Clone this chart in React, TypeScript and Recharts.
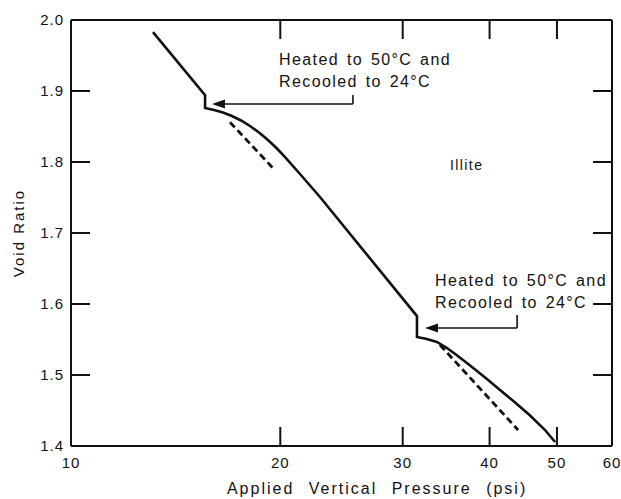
import React from 'react'
import { ComposedChart, Line, XAxis, YAxis, ReferenceLine } from 'recharts'

// page reset, so nothing scrolls
document.body.style.margin = '0'
document.body.style.overflow = 'hidden'

// axis ticks
const pressureTicks = [10, 20, 30, 40, 50, 60]
const voidTicks = [1.4, 1.5, 1.6, 1.7, 1.8, 1.9, 2.0]
const innerPressureTicks = [20, 30, 40, 50]
const innerVoidTicks = [1.5, 1.6, 1.7, 1.8, 1.9]

// solid curve: virgin line, heat/recool step, recompression, second step, recompression
const curvePressure = [
  13.12, 15.59, 15.59, 16.06, 16.54, 17.04, 17.56, 18.09, 18.64, 19.2, 19.78, 20.38, 21.35, 22.81,
  31.45, 31.45, 32.49, 33.6, 34.74, 35.93, 37.5, 39.41, 41.41, 43.53, 45.74, 48.07, 49.69,
]
const curveVoid = [
  1.983, 1.894, 1.876, 1.8732, 1.8697, 1.8648, 1.8585, 1.8507, 1.8415, 1.831, 1.819, 1.8056, 1.7831, 1.7507,
  1.583, 1.5535, 1.5507, 1.5465, 1.538, 1.5275, 1.5134, 1.4965, 1.4789, 1.4613, 1.443, 1.4225, 1.4056,
]

// dashed extensions of the virgin line
const dash1Pressure = [16.93, 19.52]
const dash1Void = [1.856, 1.7915]
const dash2Pressure = [33.94, 43.97]
const dash2Void = [1.5423, 1.4225]

const zip = (xs: number[], ys: number[]) => xs.map((p, i) => ({ p, e: ys[i] }))

const curve = zip(curvePressure, curveVoid)
const dash1 = zip(dash1Pressure, dash1Void)
const dash2 = zip(dash2Pressure, dash2Void)

const FONT = '"Liberation Sans", Arial, Helvetica, sans-serif'
const INK = '#111'
const TICK_LEN = 19

const [P_MIN, P_MAX] = [10, 60]
const [E_MIN, E_MAX] = [1.4, 2.0]

const tickStyle = { fontSize: 15, fill: INK, fontFamily: FONT, letterSpacing: 1 }

// whole-axis reference lines, drawn as short inward tick marks at both ends
const vTicks = (props: any) => {
  const x = Number(props.x1)
  const top = Math.min(Number(props.y1), Number(props.y2))
  const bottom = Math.max(Number(props.y1), Number(props.y2))
  return (
    <g>
      <line x1={x} y1={top} x2={x} y2={top + TICK_LEN} stroke={INK} strokeWidth={2} />
      <line x1={x} y1={bottom} x2={x} y2={bottom - TICK_LEN} stroke={INK} strokeWidth={2} />
    </g>
  )
}

const hTicks = (props: any) => {
  const y = Number(props.y1)
  const left = Math.min(Number(props.x1), Number(props.x2))
  const right = Math.max(Number(props.x1), Number(props.x2))
  return (
    <g>
      <line x1={left} y1={y} x2={left + TICK_LEN} y2={y} stroke={INK} strokeWidth={2} />
      <line x1={right} y1={y} x2={right - TICK_LEN} y2={y} stroke={INK} strokeWidth={2} />
    </g>
  )
}

const plainLine = (w: number) => (props: any) => (
  <line x1={props.x1} y1={props.y1} x2={props.x2} y2={props.y2} stroke={INK} strokeWidth={w} />
)

// horizontal arrow from bracket corner to the step
const arrow = (props: any) => {
  const { x1, y1, x2, y2 } = props
  const dir = x2 < x1 ? 1 : -1
  return (
    <g>
      <line x1={x1} y1={y1} x2={x2 + dir * 6} y2={y2} stroke={INK} strokeWidth={1.6} />
      <polygon points={`${x2},${y2} ${x2 + dir * 13},${y2 - 4.5} ${x2 + dir * 13},${y2 + 4.5}`} fill={INK} />
    </g>
  )
}

const textAt = (lines: string[], size: number, extra: any = {}) => (props: any) => {
  const { x1, y1 } = props
  return (
    <text x={x1} y={y1} fontFamily={FONT} fontSize={size} letterSpacing={1.4} wordSpacing={2} fill={INK} {...extra}>
      {lines.map((l, i) => (
        <tspan key={i} x={x1} dy={i === 0 ? 0 : 22}>
          {l}
        </tspan>
      ))}
    </text>
  )
}

const note = ['Heated to 50°C and', 'Recooled to 24°C']

const at = (x: number, y: number) => [{ x, y }, { x, y }]

export default function App() {
  return (
    <div style={{ position: 'relative', width: 621, height: 499, background: '#fff', overflow: 'hidden' }}>
      <ComposedChart width={621} height={499} margin={{ top: 20, right: 9, left: 0, bottom: 0 }}>
        <XAxis
          dataKey="p"
          type="number"
          scale="log"
          domain={[P_MIN, P_MAX]}
          ticks={pressureTicks}
          allowDataOverflow
          height={53}
          tickSize={0}
          tickMargin={11}
          stroke={INK}
          strokeWidth={2}
          tick={tickStyle}
        />
        <YAxis
          dataKey="e"
          type="number"
          domain={[E_MIN, E_MAX]}
          ticks={voidTicks}
          allowDataOverflow
          width={71}
          tickSize={0}
          tickMargin={7}
          stroke={INK}
          strokeWidth={2}
          tick={tickStyle}
          tickFormatter={(v: number) => v.toFixed(1)}
        />

        {/* top and right frame, inward ticks */}
        <ReferenceLine segment={[{ x: P_MAX, y: E_MAX }, { x: P_MIN, y: E_MAX }]} shape={plainLine(2)} ifOverflow="visible" />
        <ReferenceLine segment={[{ x: P_MAX, y: E_MIN }, { x: P_MAX, y: E_MAX }]} shape={plainLine(2)} ifOverflow="visible" />
        {innerPressureTicks.map(v => (
          <ReferenceLine key={`px${v}`} segment={[{ x: v, y: E_MIN }, { x: v, y: E_MAX }]} shape={vTicks} ifOverflow="visible" />
        ))}
        {innerVoidTicks.map(v => (
          <ReferenceLine key={`ey${v}`} segment={[{ x: P_MAX, y: v }, { x: P_MIN, y: v }]} shape={hTicks} ifOverflow="visible" />
        ))}

        <Line data={curve} dataKey="e" type="linear" stroke={INK} strokeWidth={2.6} dot={false} isAnimationActive={false} />
        <Line data={dash1} dataKey="e" type="linear" stroke={INK} strokeWidth={2.8} strokeDasharray="7 4" dot={false} isAnimationActive={false} />
        <Line data={dash2} dataKey="e" type="linear" stroke={INK} strokeWidth={2.8} strokeDasharray="7 4" dot={false} isAnimationActive={false} />

        {/* annotation brackets */}
        <ReferenceLine segment={[{ x: 25.44, y: 1.8817 }, { x: 25.44, y: 1.8944 }]} shape={plainLine(1.6)} ifOverflow="visible" />
        <ReferenceLine segment={[{ x: 25.44, y: 1.8817 }, { x: 15.95, y: 1.8817 }]} shape={arrow} ifOverflow="visible" />
        <ReferenceLine segment={[{ x: 43.82, y: 1.5662 }, { x: 43.82, y: 1.5845 }]} shape={plainLine(1.6)} ifOverflow="visible" />
        <ReferenceLine segment={[{ x: 43.82, y: 1.5662 }, { x: 32.3, y: 1.5662 }]} shape={arrow} ifOverflow="visible" />

        {/* annotation and axis title texts */}
        <ReferenceLine segment={at(19.92, 1.9366)} shape={textAt(note, 16)} ifOverflow="visible" />
        <ReferenceLine segment={at(33.39, 1.6254)} shape={textAt(note, 16)} ifOverflow="visible" />
        <ReferenceLine segment={at(35.09, 1.7887)} shape={textAt(['Illite'], 14)} ifOverflow="visible" />
        <ReferenceLine
          segment={at(16.76, 1.3324)}
          shape={textAt(['Applied Vertical Pressure (psi)'], 16, { letterSpacing: 2, wordSpacing: 8 })}
          ifOverflow="visible"
        />
        <ReferenceLine
          segment={at(8.56, 1.7)}
          shape={(props: any) => (
            <text
              x={0}
              y={0}
              transform={`translate(${props.x1} ${props.y1}) rotate(-90)`}
              textAnchor="middle"
              fontFamily={FONT}
              fontSize={15}
              letterSpacing={2}
              fill={INK}
            >
              Void Ratio
            </text>
          )}
          ifOverflow="visible"
        />
      </ComposedChart>
    </div>
  )
}
